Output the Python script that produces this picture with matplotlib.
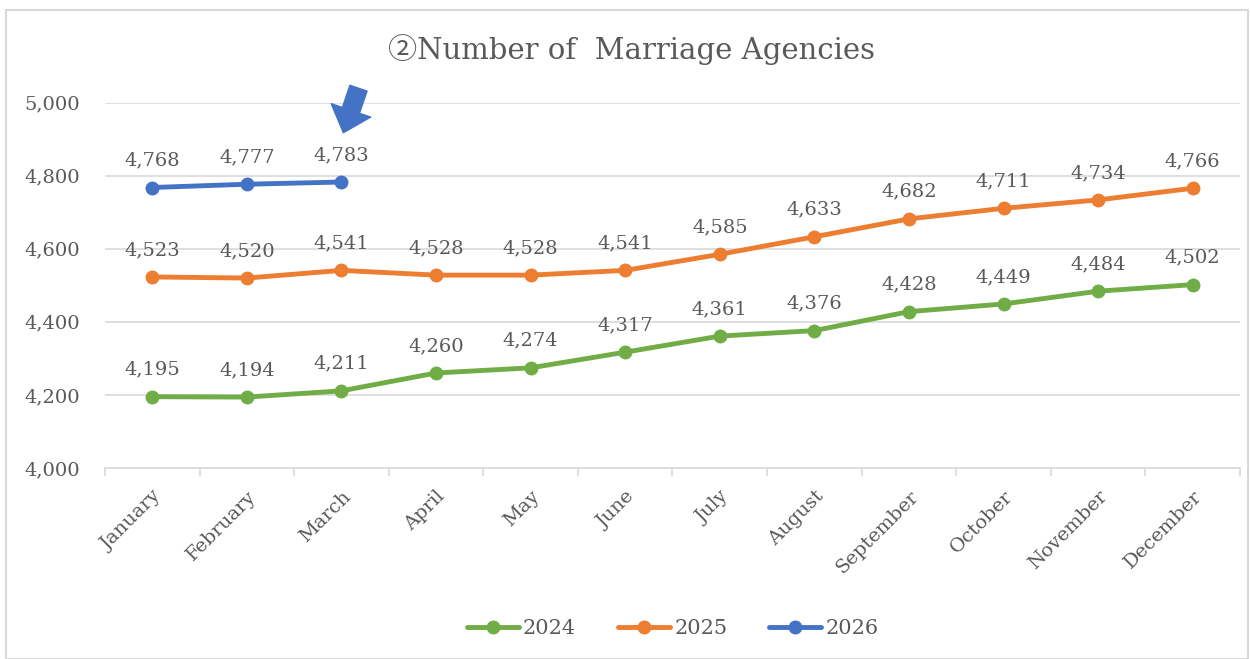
import matplotlib
matplotlib.use("Agg")
import matplotlib.pyplot as plt
from matplotlib.patches import Rectangle

months = ["January", "February", "March", "April", "May", "June", "July",
          "August", "September", "October", "November", "December"]
y2024 = [4195, 4194, 4211, 4260, 4274, 4317, 4361, 4376, 4428, 4449, 4484, 4502]
y2025 = [4523, 4520, 4541, 4528, 4528, 4541, 4585, 4633, 4682, 4711, 4734, 4766]
y2026 = [4768, 4777, 4783]

series = [("2024", y2024, "#70AD47"), ("2025", y2025, "#ED7D31"), ("2026", y2026, "#4472C4")]
TXT = "#595959"
FONT = ["DejaVu Serif", "Noto Sans CJK JP"]
plt.rcParams["font.family"] = FONT

fig = plt.figure(figsize=(12.5, 6.59), dpi=100)
fig.patches.append(Rectangle((0.005, 0.0), 0.993, 0.985, transform=fig.transFigure,
                             fill=False, edgecolor="#D9D9D9", linewidth=1.5))
ax = fig.add_axes([0.084, 0.29, 0.908, 0.554])

x = list(range(len(months)))
for name, vals, col in series:
    xs = x[:len(vals)]
    ax.plot(xs, vals, color=col, linewidth=3.5, marker="o", markersize=9,
            solid_capstyle="round", label=name, zorder=3)
    for xi, v in zip(xs, vals):
        ax.annotate(f"{v:,}", (xi, v), xytext=(0, 13), textcoords="offset points",
                    ha="center", va="bottom", fontsize=14, color=TXT)

ax.set_xlim(-0.5, len(months) - 0.5)
ax.set_ylim(4000, 5000)
ax.set_yticks([4000, 4200, 4400, 4600, 4800, 5000])
ax.set_yticklabels([f"{t:,}" for t in [4000, 4200, 4400, 4600, 4800, 5000]],
                   fontsize=14, color=TXT)
ax.set_xticks(x)
ax.set_xticklabels(months, rotation=45, ha="right", rotation_mode="anchor",
                   fontsize=14, color=TXT)
ax.tick_params(axis="x", length=0, pad=14)
ax.tick_params(axis="y", length=0, pad=18)
ax.set_xticks([i - 0.5 for i in range(len(months) + 1)], minor=True)
ax.tick_params(axis="x", which="minor", length=6, color="#D9D9D9", width=1.2)
ax.grid(axis="y", color="#D9D9D9", linewidth=1.2)
ax.set_axisbelow(True)
for s in ["top", "right", "left"]:
    ax.spines[s].set_visible(False)
ax.spines["bottom"].set_color("#D9D9D9")
ax.spines["bottom"].set_linewidth(1.2)

# arrow pointing at the latest value
ax.annotate("", xy=(2.02, 4918), xytext=(2.18, 5040),
            arrowprops=dict(arrowstyle="simple,head_width=3.0,head_length=1.7,tail_width=1.3",
                            color="#4472C4", shrinkA=0, shrinkB=0),
            annotation_clip=False, zorder=5)

fig.text(0.505, 0.925, "②Number of  Marriage Agencies", ha="center", va="center",
         fontsize=21, color=TXT, family=FONT)

ax.legend(loc="center", bbox_to_anchor=(0.5, -0.44), ncol=3, frameon=False,
          fontsize=15, handlelength=2.5, columnspacing=2.0, handletextpad=0.2,
          labelcolor=TXT)

fig.savefig("out.png", dpi=100)
